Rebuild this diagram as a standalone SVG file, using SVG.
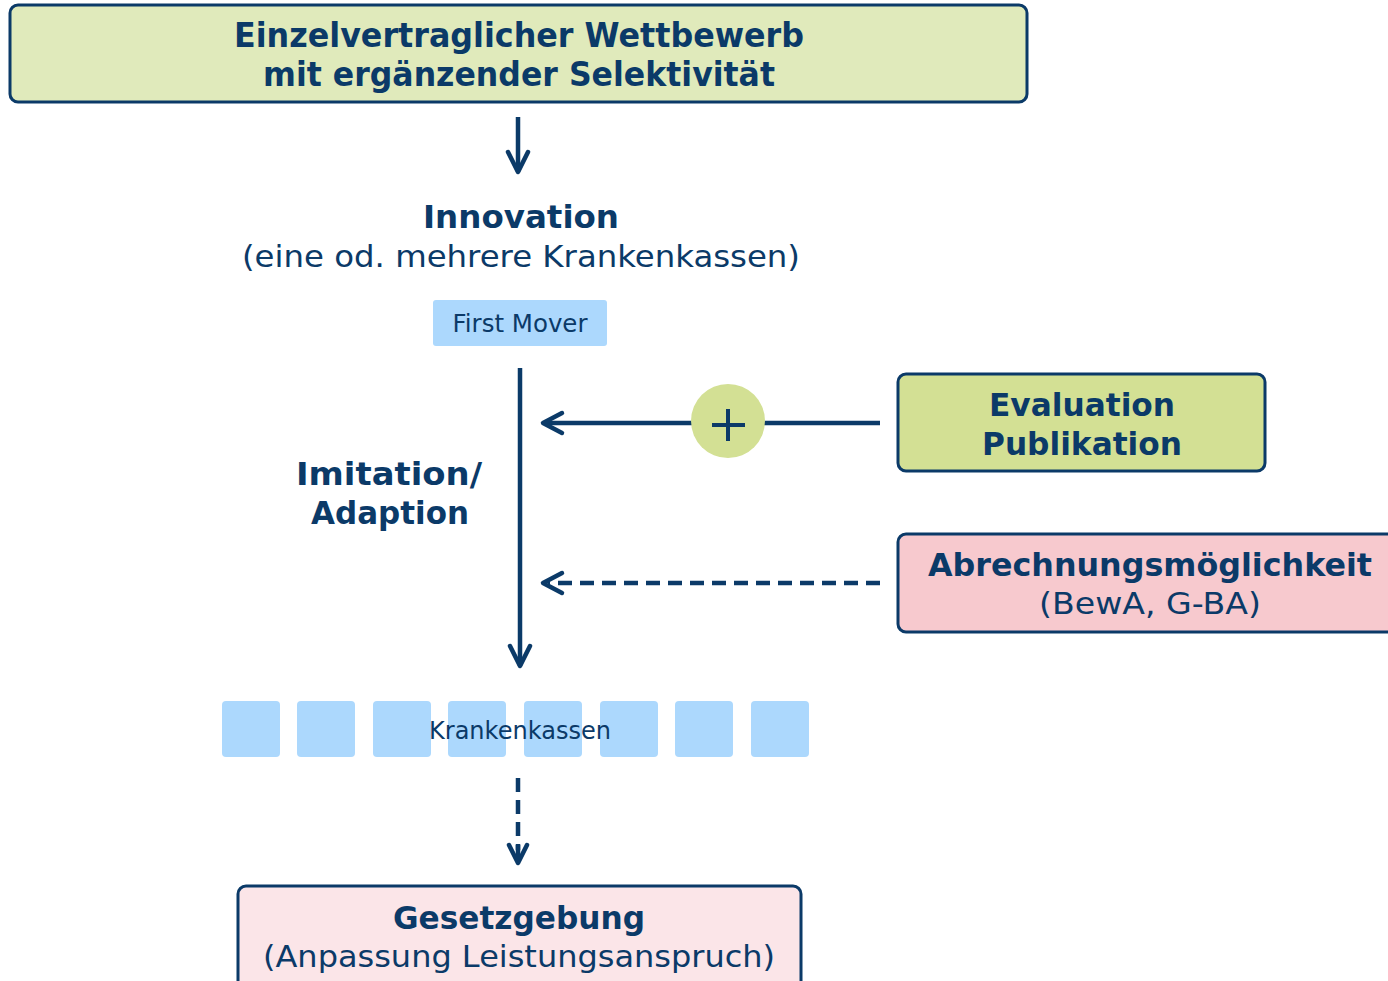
<svg xmlns="http://www.w3.org/2000/svg" width="1388" height="981" viewBox="0 0 1388 981">
<style>
text{font-family:"DejaVu Sans",Verdana,sans-serif;fill:#0b3a68;text-anchor:middle}
.b{font-weight:bold}
.box{stroke:#0b3a68;stroke-width:3}
.ln{stroke:#0b3a68;stroke-width:4.5;fill:none}
.dash{stroke-dasharray:14 8}
.hd{stroke:#0b3a68;stroke-width:4.5;fill:none;stroke-linecap:round;stroke-linejoin:round}
.kk{fill:#acd8fd}
</style>
<g id="top">
<rect class="box" x="10" y="5" width="1017" height="97" rx="8" fill="#e0eabb"/>
<text class="b" x="519" y="47" font-size="33" textLength="570" lengthAdjust="spacingAndGlyphs">Einzelvertraglicher Wettbewerb</text>
<text class="b" x="519" y="86" font-size="33" textLength="512" lengthAdjust="spacingAndGlyphs">mit ergänzender Selektivität</text>
</g>
<g id="innovation">
<text class="b" x="521" y="228" font-size="32" textLength="196" lengthAdjust="spacingAndGlyphs">Innovation</text>
<text x="521" y="267" font-size="30" textLength="558" lengthAdjust="spacingAndGlyphs">(eine od. mehrere Krankenkassen)</text>
</g>
<g id="firstmover">
<rect class="kk" x="433" y="300" width="174" height="46" rx="3"/>
<text x="520" y="332" font-size="24" textLength="135" lengthAdjust="spacingAndGlyphs">First Mover</text>
</g>
<g id="imitation">
<text class="b" x="389" y="485" font-size="32" textLength="186" lengthAdjust="spacingAndGlyphs">Imitation/</text>
<text class="b" x="390" y="524" font-size="32" textLength="158" lengthAdjust="spacingAndGlyphs">Adaption</text>
</g>
<g id="evaluation">
<rect class="box" x="898" y="374" width="367" height="97" rx="8" fill="#d3e094"/>
<text class="b" x="1082" y="416" font-size="32" textLength="186" lengthAdjust="spacingAndGlyphs">Evaluation</text>
<text class="b" x="1082" y="455" font-size="32" textLength="200" lengthAdjust="spacingAndGlyphs">Publikation</text>
</g>
<g id="abrechnung">
<rect class="box" x="898" y="534" width="500" height="98" rx="8" fill="#f7c9ce"/>
<text class="b" x="1150" y="576" font-size="32" textLength="444" lengthAdjust="spacingAndGlyphs">Abrechnungsmöglichkeit</text>
<text x="1150" y="614" font-size="30" textLength="222" lengthAdjust="spacingAndGlyphs">(BewA, G-BA)</text>
</g>
<g id="krankenkassen">
<rect class="kk" x="222" y="701" width="58" height="56" rx="4"/>
<rect class="kk" x="297" y="701" width="58" height="56" rx="4"/>
<rect class="kk" x="373" y="701" width="58" height="56" rx="4"/>
<rect class="kk" x="448" y="701" width="58" height="56" rx="4"/>
<rect class="kk" x="524" y="701" width="58" height="56" rx="4"/>
<rect class="kk" x="600" y="701" width="58" height="56" rx="4"/>
<rect class="kk" x="675" y="701" width="58" height="56" rx="4"/>
<rect class="kk" x="751" y="701" width="58" height="56" rx="4"/>
<text x="520" y="739" font-size="24" textLength="182" lengthAdjust="spacingAndGlyphs">Krankenkassen</text>
</g>
<g id="gesetzgebung">
<rect class="box" x="238" y="886" width="563" height="110" rx="8" fill="#fbe5e8"/>
<text class="b" x="519" y="929" font-size="32" textLength="252" lengthAdjust="spacingAndGlyphs">Gesetzgebung</text>
<text x="519" y="967" font-size="30" textLength="512" lengthAdjust="spacingAndGlyphs">(Anpassung Leistungsanspruch)</text>
</g>
<g id="connectors">
<line class="ln" x1="518" y1="117" x2="518" y2="172"/>
<polyline class="hd" points="508,152 518,172 528,152"/>
<line class="ln" x1="520" y1="368" x2="520" y2="666"/>
<polyline class="hd" points="510,646 520,666 530,646"/>
<line class="ln" x1="880" y1="423" x2="544" y2="423"/>
<polyline class="hd" points="562,413 543,423 562,433"/>
<line class="ln dash" x1="880" y1="583" x2="548" y2="583"/>
<polyline class="hd" points="562,573 543,583 562,593"/>
<line class="ln dash" x1="518" y1="778" x2="518" y2="850"/>
<polyline class="hd" points="509,845 518,863 527,845"/>
<line class="ln" x1="518" y1="845" x2="518" y2="860"/>
</g>
<g id="plus">
<circle cx="728" cy="421" r="37" fill="#d3e094"/>
<line x1="712" y1="425" x2="745" y2="425" stroke="#0b3a68" stroke-width="4"/>
<line x1="728" y1="409" x2="728" y2="441" stroke="#0b3a68" stroke-width="4"/>
</g>
</svg>
